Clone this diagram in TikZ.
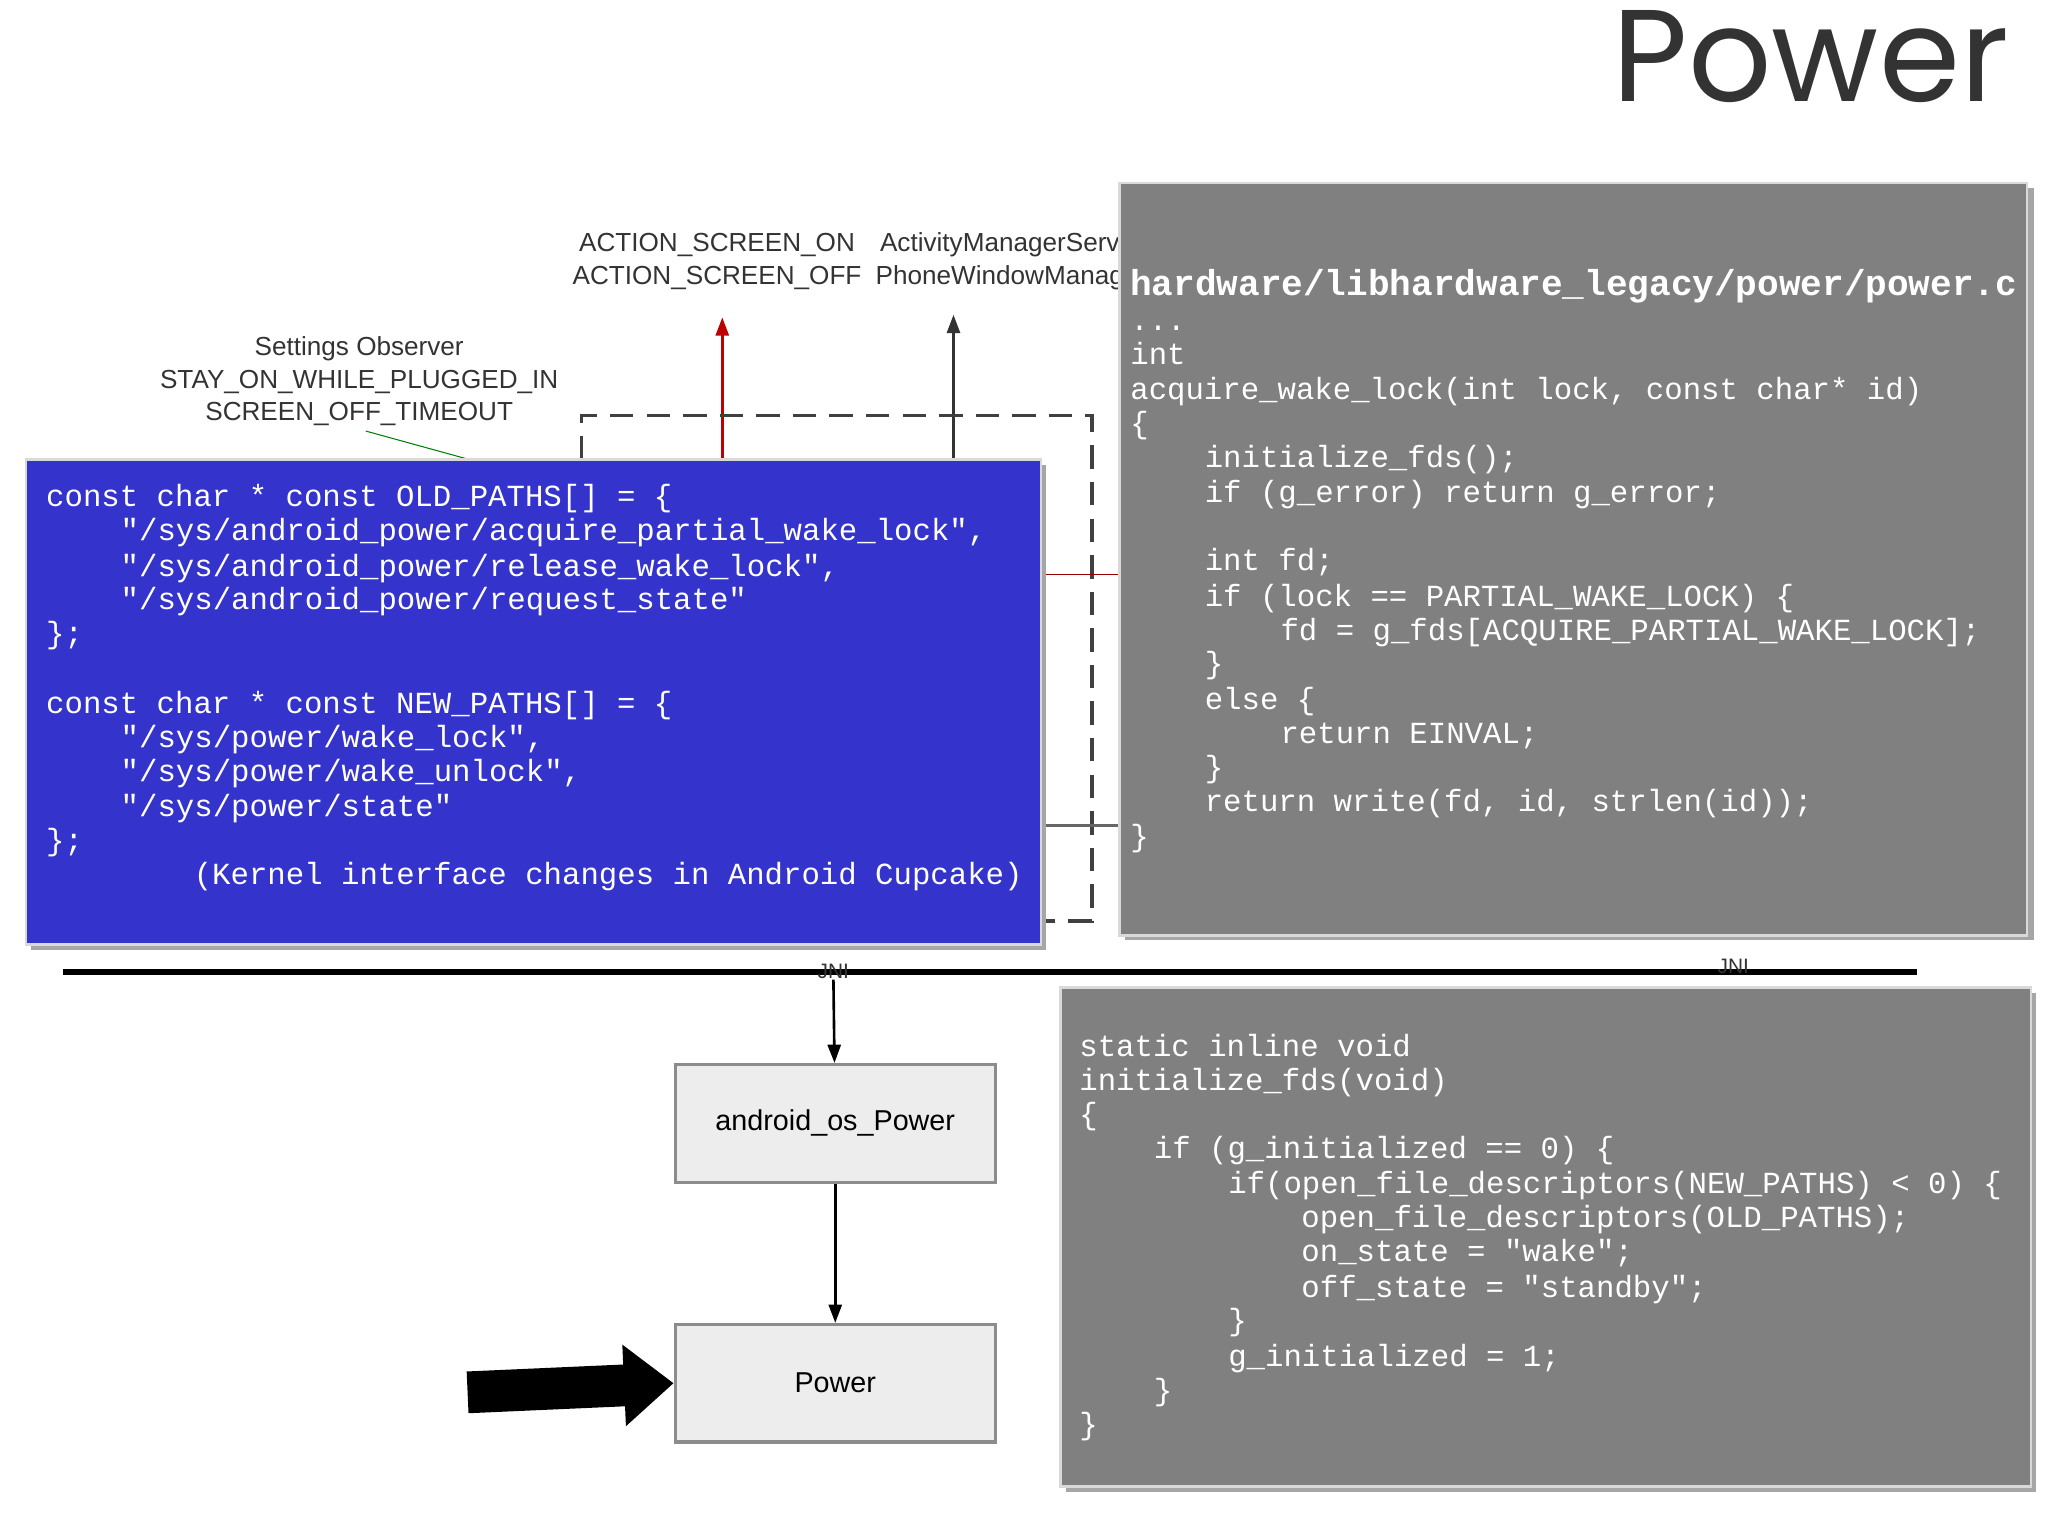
\documentclass[tikz,border=0pt]{standalone}
\usepackage{fontspec}
\setmainfont{Liberation Sans}
\setmonofont{Liberation Mono}
\newfontfamily\titlefont{Poppins}
\usetikzlibrary{arrows.meta}
\definecolor{bluebox}{RGB}{52,52,204}
\definecolor{graybox}{RGB}{128,128,128}
\tikzset{
 code/.style={anchor=base west,inner sep=0,text=white,font=\fontsize{11.75}{13}\selectfont\ttfamily},
 bg/.style={font=\fontsize{10}{12.5}\selectfont,text=black!80,align=center,inner sep=0},
 codebox/.style={draw=white!85!black,line width=1pt},
 fbox/.style={draw=black!45,fill=black!7,line width=1.2pt,minimum width=122.5pt,minimum height=45pt,font=\fontsize{11}{13}\selectfont},
 arr/.style={-{Triangle[length=7pt,width=5pt]},line width=1pt}
}
\newcommand\cl[3]{\node[code] at (#1,#2) {#3};}
\begin{document}
\begin{tikzpicture}[x=0.5pt,y=-0.5pt]
\useasboundingbox (0,0) rectangle (1568,1175);
\node[font=\titlefont\fontsize{50}{50}\selectfont,text=black!80,anchor=base east] (title) at (1545,78) {Power};
% background diagram
\node[bg,anchor=west] (act) at (438,200) {ACTION\_SCREEN\_ON\\ACTION\_SCREEN\_OFF};
\node[bg,anchor=west] (ams) at (670,200) {ActivityManagerServ\\PhoneWindowManag};
\node[bg] (set) at (275,292) {Settings Observer\\STAY\_ON\_WHILE\_PLUGGED\_IN\\SCREEN\_OFF\_TIMEOUT};
\coordinate (r1) at (553,352); \coordinate (r2) at (553,243);
\coordinate (b1) at (730,352); \coordinate (b2) at (730,241);
\draw[arr,red!75!black] (r1) -- (r2);
\draw[arr,black!80] (b1) -- (b2);
\draw[dashed,line width=1.3pt,dash pattern=on 9pt off 5pt,black!75] (445,352) |- (836,318) |- (800,705);
\draw[green!50!black,thin] (280,330) -- (360,352);
\draw[red!60!black,thin] (800,440) -- (857,440);
\draw[black!60,line width=1pt] (800,632) -- (857,632);
% blue box
\fill[black!35] (24,356) rectangle (801,727);
\draw[codebox,fill=bluebox] (20,352) rectangle (797,723);
\cl{35}{388}{const char * const OLD\_PATHS[] = \{}
\cl{92}{414}{"/sys/android\_power/acquire\_partial\_wake\_lock",}
\cl{92}{441}{"/sys/android\_power/release\_wake\_lock",}
\cl{92}{467}{"/sys/android\_power/request\_state"}
\cl{35}{493}{\};}
\cl{35}{546}{const char * const NEW\_PATHS[] = \{}
\cl{92}{572}{"/sys/power/wake\_lock",}
\cl{92}{598}{"/sys/power/wake\_unlock",}
\cl{92}{625}{"/sys/power/state"}
\cl{35}{651}{\};}
\cl{148}{677}{(Kernel interface changes in Android Cupcake)}
% gray top box
\fill[black!35] (861,144) rectangle (1557,720);
\draw[codebox,fill=graybox] (857,140) rectangle (1552,716);
\node[code,font=\fontsize{13.8}{15}\selectfont\ttfamily\bfseries] at (865,226) {hardware/libhardware\_legacy/power/power.c};
\cl{865}{253}{...}
\cl{865}{279}{int}
\cl{865}{306}{acquire\_wake\_lock(int lock, const char* id)}
\cl{865}{332}{\{}
\cl{922}{358}{initialize\_fds();}
\cl{922}{385}{if (g\_error) return g\_error;}
\cl{922}{437}{int fd;}
\cl{922}{464}{if (lock == PARTIAL\_WAKE\_LOCK) \{}
\cl{980}{490}{fd = g\_fds[ACQUIRE\_PARTIAL\_WAKE\_LOCK];}
\cl{922}{516}{\}}
\cl{922}{543}{else \{}
\cl{980}{569}{return EINVAL;}
\cl{922}{595}{\}}
\cl{922}{621}{return write(fd, id, strlen(id));}
\cl{865}{648}{\}}
% JNI line
\draw[line width=2.5pt] (48,744) -- (1468,744);
\node[bg,font=\fontsize{8}{9}\selectfont] (jni1) at (638,744) {JNI};
\node[bg,font=\fontsize{8}{9}\selectfont] (jni2) at (1327,740) {JNI};
\node[fbox] (aop) at (639.5,860) {android\_os\_Power};
\node[fbox] (pw) at (639.5,1059) {Power};
\draw[arr] (jni1) -- (aop);
\draw[arr] (aop) -- (pw);
\coordinate (bigs) at (358,1066);
\draw[line width=16pt,-{Triangle[length=19pt,width=30pt]}] (bigs) -- (pw.west);
% gray bottom box
\fill[black!35] (816,760) rectangle (1559,1142);
\draw[codebox,fill=graybox] (812,756) rectangle (1555,1138);
\cl{826}{809}{static inline void}
\cl{826}{835}{initialize\_fds(void)}
\cl{826}{861}{\{}
\cl{883}{887}{if (g\_initialized == 0) \{}
\cl{940}{914}{if(open\_file\_descriptors(NEW\_PATHS) < 0) \{}
\cl{996}{940}{open\_file\_descriptors(OLD\_PATHS);}
\cl{996}{966}{on\_state = "wake";}
\cl{996}{993}{off\_state = "standby";}
\cl{940}{1019}{\}}
\cl{940}{1046}{g\_initialized = 1;}
\cl{883}{1072}{\}}
\cl{826}{1098}{\}}
\end{tikzpicture}
\end{document}
